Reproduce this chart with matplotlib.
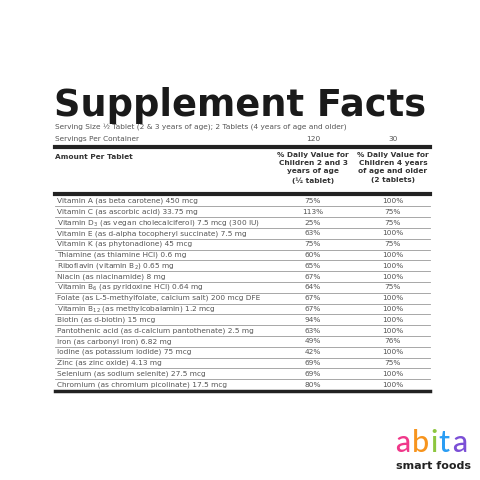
import matplotlib
matplotlib.use("Agg")
import matplotlib.pyplot as plt

nutrients = ["Vitamin A (as beta carotene) 450 mcg",
 "Vitamin C (as ascorbic acid) 33.75 mg",
 "Vitamin D$_3$ (as vegan cholecalciferol) 7.5 mcg (300 IU)",
 "Vitamin E (as d-alpha tocopheryl succinate) 7.5 mg",
 "Vitamin K (as phytonadione) 45 mcg",
 "Thiamine (as thiamine HCl) 0.6 mg",
 "Riboflavin (vitamin B$_2$) 0.65 mg",
 "Niacin (as niacinamide) 8 mg",
 "Vitamin B$_6$ (as pyridoxine HCl) 0.64 mg",
 "Folate (as L-5-methylfolate, calcium salt) 200 mcg DFE",
 "Vitamin B$_{12}$ (as methylcobalamin) 1.2 mcg",
 "Biotin (as d-biotin) 15 mcg",
 "Pantothenic acid (as d-calcium pantothenate) 2.5 mg",
 "Iron (as carbonyl iron) 6.82 mg",
 "Iodine (as potassium iodide) 75 mcg",
 "Zinc (as zinc oxide) 4.13 mg",
 "Selenium (as sodium selenite) 27.5 mcg",
 "Chromium (as chromium picolinate) 17.5 mcg"]
dv_young = ["75%","113%","25%","63%","75%","60%","65%","67%","64%","67%","67%","94%","63%","49%","42%","69%","69%","80%"]
dv_old = ["100%","75%","75%","100%","75%","100%","100%","100%","75%","100%","100%","100%","100%","76%","100%","75%","100%","100%"]
servings = ["120", "30"]
col_heads = ["% Daily Value for\nChildren 2 and 3\nyears of age\n(½ tablet)",
             "% Daily Value for\nChildren 4 years\nof age and older\n(2 tablets)"]

fig = plt.figure(figsize=(4.8, 4.8), dpi=100)
ax = fig.add_axes([0, 0, 1, 1])
ax.set_xlim(0, 480); ax.set_ylim(480, 0); ax.axis("off")
gray = "#555555"
fs = 5.3
L, R, C1, C2 = 55, 430, 313, 393

ax.text(L - 1, 116, "Supplement Facts", fontsize=26.5, fontweight="bold", color="#1a1a1a", va="baseline")
ax.text(L, 128, "Serving Size ½ Tablet (2 & 3 years of age); 2 Tablets (4 years of age and older)", fontsize=fs, color=gray, va="baseline")
ax.text(L, 141, "Servings Per Container", fontsize=fs, color=gray, va="baseline")
ax.text(C1, 141, servings[0], fontsize=fs, color=gray, va="baseline", ha="center")
ax.text(C2, 141, servings[1], fontsize=fs, color=gray, va="baseline", ha="center")
ax.plot([L, R], [147, 147], color="#222", lw=3)
ax.text(L, 159, "Amount Per Tablet", fontsize=fs, color="#333", fontweight="bold", va="baseline")
for x, h in zip([C1, C2], col_heads):
    ax.text(x, 152, h, fontsize=fs, color="#333", fontweight="bold", ha="center", va="top", linespacing=1.45)
ax.plot([L, R], [194, 194], color="#222", lw=3)

y0, dy = 201, 10.8
for i, (n, a, b) in enumerate(zip(nutrients, dv_young, dv_old)):
    y = y0 + i * dy
    ax.text(L + 2, y, n, fontsize=fs, color=gray, va="center")
    ax.text(C1, y, a, fontsize=fs, color=gray, va="center", ha="center")
    ax.text(C2, y, b, fontsize=fs, color=gray, va="center", ha="center")
    if i < len(nutrients) - 1:
        ax.plot([L, R], [y + dy / 2, y + dy / 2], color="#999", lw=0.6)
yb = y0 + (len(nutrients) - 0.5) * dy + 1
ax.plot([L, R], [yb, yb], color="#222", lw=2.5)

letters = ["a", "b", "i", "t", "a"]
colors = ["#f0388a", "#f7941d", "#8dc63f", "#2a9df4", "#7b4fd6"]
xs = [403, 420, 434, 444, 460]
for l, c, x in zip(letters, colors, xs):
    ax.text(x, 452, l, fontsize=22, color=c, ha="center", va="baseline", family="Lato", fontweight="medium")
ax.text(433, 469, "smart foods", fontsize=8, fontweight="bold", color="#222", ha="center", va="baseline")

fig.savefig("out.png", dpi=100, facecolor="white")
